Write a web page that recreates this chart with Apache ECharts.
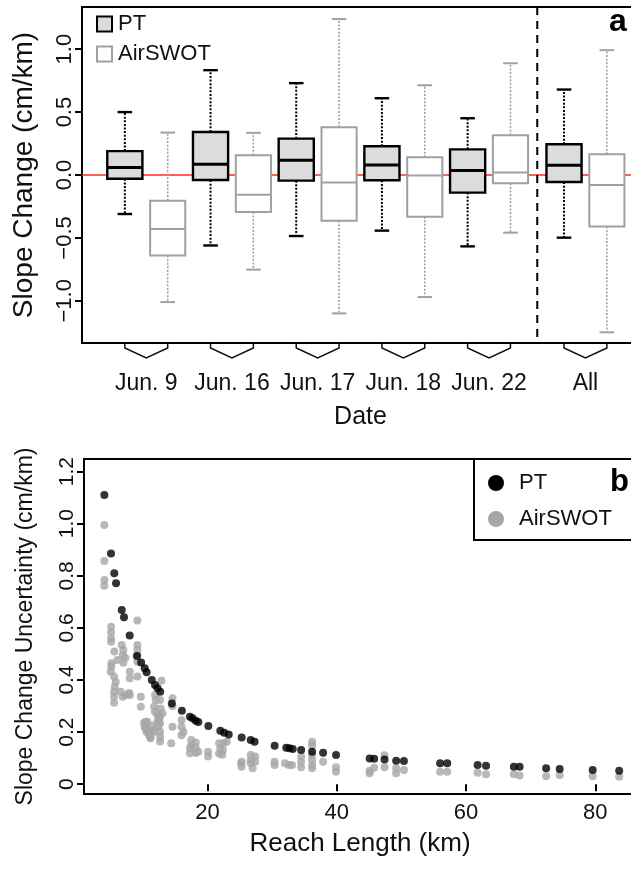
<!DOCTYPE html>
<html>
<head>
<meta charset="utf-8">
<script src="https://cdn.jsdelivr.net/npm/echarts@6/dist/echarts.min.js"></script>
<style>
  html, body { margin: 0; padding: 0; background: #fff; }
  #chart { width: 631px; height: 872px; }
</style>
</head>
<body>
<div id="chart"></div>
<script>
// ---- Panel a: slope change per survey date (box summaries) ----
const dateLabels = ['Jun. 9', 'Jun. 16', 'Jun. 17', 'Jun. 18', 'Jun. 22', 'All'];
// [lower whisker, Q1, median, Q3, upper whisker] in cm/km
const ptBoxes = [
  [-0.31, -0.03, 0.06, 0.19, 0.50],
  [-0.56, -0.04, 0.085, 0.342, 0.833],
  [-0.485, -0.045, 0.117, 0.289, 0.73],
  [-0.442, -0.042, 0.08, 0.228, 0.61],
  [-0.567, -0.14, 0.035, 0.204, 0.451],
  [-0.498, -0.056, 0.077, 0.244, 0.679]
];
const airswotBoxes = [
  [-1.01, -0.64, -0.43, -0.204, 0.337],
  [-0.752, -0.294, -0.156, 0.157, 0.335],
  [-1.10, -0.363, -0.06, 0.379, 1.239],
  [-0.97, -0.331, -0.003, 0.141, 0.713],
  [-0.458, -0.066, 0.019, 0.316, 0.888],
  [-1.25, -0.41, -0.079, 0.165, 0.992]
];
const slopeTicks = [-1.0, -0.5, 0.0, 0.5, 1.0];
const slopeTickLabels = ['\u22121.0', '\u22120.5', '0.0', '0.5', '1.0'];

// ---- Panel b: slope change uncertainty vs reach length ----
const ptLength = [4.06, 5.09, 5.6, 5.87, 6.75, 7.1, 7.98, 9.1, 9.75, 10.3, 10.6, 11.4, 11.9, 12.3, 12.7,
  14.5, 16.05, 17.3, 17.7, 18.2, 18.6, 20.15, 22.0, 22.6, 23.3, 25.3, 26.7, 27.3, 30.4, 32.2, 32.7,
  33.2, 34.5, 36.2, 37.9, 39.9, 45.1, 45.8, 47.4, 49.2, 50.4, 56.0, 57.1, 61.8, 63.1, 67.4, 68.3,
  72.4, 74.5, 79.6, 83.7];
const ptUncertainty = [1.11, 0.886, 0.81, 0.771, 0.669, 0.641, 0.571, 0.492, 0.467, 0.445, 0.43, 0.4, 0.381, 0.368, 0.355,
  0.31, 0.282, 0.259, 0.253, 0.244, 0.239, 0.223, 0.205, 0.198, 0.191, 0.179, 0.17, 0.163, 0.148, 0.14, 0.138,
  0.135, 0.131, 0.125, 0.121, 0.112, 0.099, 0.098, 0.095, 0.09, 0.089, 0.08, 0.08, 0.074, 0.071, 0.067, 0.067,
  0.061, 0.058, 0.055, 0.052];
// [reach length (km), uncertainty (cm/km)]
const airswotPoints = [
  [4.06, 0.995], [4.06, 0.857], [4.06, 0.784], [4.06, 0.762],
  [5.1, 0.604], [5.1, 0.583], [5.1, 0.56], [5.1, 0.547], [5.6, 0.509],
  [5.14, 0.464], [5.14, 0.451], [5.05, 0.432], [5.56, 0.413], [5.82, 0.393], [5.67, 0.374],
  [5.56, 0.355], [5.56, 0.336], [5.56, 0.313], [6.07, 0.477],
  [6.75, 0.534], [7.0, 0.515], [6.9, 0.496], [7.3, 0.485], [7.0, 0.466],
  [6.6, 0.355], [6.9, 0.336], [7.4, 0.342], [8.0, 0.342], [7.9, 0.35], [8.0, 0.432], [8.0, 0.407],
  [9.17, 0.628], [9.17, 0.534], [9.17, 0.515], [9.17, 0.496], [9.17, 0.47], [9.17, 0.413],
  [9.7, 0.336], [9.7, 0.297],
  [10.2, 0.235], [10.4, 0.24], [10.4, 0.215], [10.7, 0.24], [10.6, 0.2], [10.9, 0.2], [11.0, 0.189],
  [11.2, 0.176], [11.2, 0.18], [11.4, 0.225], [11.75, 0.208], [11.75, 0.2], [10.3, 0.22], [10.8, 0.21], [11.1, 0.195],
  [11.9, 0.342], [11.9, 0.278], [11.75, 0.297], [12.0, 0.323], [12.26, 0.266], [12.26, 0.24],
  [12.68, 0.259], [12.68, 0.233], [12.68, 0.201], [12.68, 0.182], [12.68, 0.164], [12.68, 0.323],
  [12.78, 0.291], [13.05, 0.272], [12.9, 0.397], [12.5, 0.25], [12.4, 0.22],
  [14.6, 0.33], [14.6, 0.3], [14.6, 0.221], [14.4, 0.157],
  [16.0, 0.246], [16.0, 0.221], [16.0, 0.188], [16.3, 0.2],
  [17.3, 0.138], [17.3, 0.119], [17.5, 0.17], [17.5, 0.15], [18.2, 0.16], [18.2, 0.14], [18.2, 0.12], [18.6, 0.125],
  [20.1, 0.125], [20.1, 0.106],
  [21.8, 0.157], [21.8, 0.118], [22.0, 0.138], [22.3, 0.113], [22.4, 0.131], [22.5, 0.157], [23.0, 0.163],
  [25.2, 0.08], [25.3, 0.086], [25.3, 0.067],
  [26.7, 0.112], [26.7, 0.093], [26.7, 0.08], [27.0, 0.061], [27.4, 0.106], [27.4, 0.086],
  [30.4, 0.086], [30.4, 0.074], [32.0, 0.08], [32.6, 0.074], [33.1, 0.074],
  [34.5, 0.106], [34.5, 0.086], [34.5, 0.065],
  [36.2, 0.163], [36.2, 0.148], [36.2, 0.112], [36.2, 0.093], [36.2, 0.074], [36.2, 0.061],
  [37.9, 0.086], [39.9, 0.065], [39.9, 0.048],
  [45.1, 0.052], [45.1, 0.042], [45.8, 0.063], [47.4, 0.111], [47.4, 0.065],
  [49.2, 0.061], [49.2, 0.042], [50.4, 0.055],
  [56.0, 0.048], [57.1, 0.048], [61.8, 0.044], [63.1, 0.038],
  [67.4, 0.038], [68.3, 0.033], [72.4, 0.031], [74.5, 0.035], [79.6, 0.031], [83.7, 0.029]
];
const uncertaintyTicks = [0, 0.2, 0.4, 0.6, 0.8, 1.0, 1.2];
const uncertaintyTickLabels = ['0', '0.2', '0.4', '0.6', '0.8', '1.0', '1.2'];
const lengthTicks = [20, 40, 60, 80];

// ---- layout helpers ----
const FONT = "'Liberation Sans', Arial, Helvetica, sans-serif";
const TEXT = '#111';
const BOX_WIDTH = 0.82;
const CAP_WIDTH = 0.34;
// two boxes per date, the pooled "All" pair set slightly apart
const groupStart = i => 2 * i + 1 + (i === dateLabels.length - 1 ? 0.25 : 0);
const labelPositions = dateLabels.map((_, i) => groupStart(i) + 0.5);
const separatorPos = (groupStart(dateLabels.length - 2) + 1 + groupStart(dateLabels.length - 1)) / 2;

const ptRows = ptBoxes.map((b, i) => [groupStart(i), ...b]);
const airswotRows = airswotBoxes.map((b, i) => [groupStart(i) + 1, ...b]);
const bracketRows = dateLabels.map((_, i) => [groupStart(i), groupStart(i) + 1]);

function boxRenderer(st) {
  return function (params, api) {
    const x = api.value(0);
    const vals = [1, 2, 3, 4, 5].map(d => api.value(d));
    const [pLow, pQ1, pMed, pQ3, pHigh] = vals.map(v => api.coord([x, v]));
    const half = api.size([BOX_WIDTH, 0])[0] / 2;
    const capHalf = api.size([CAP_WIDTH, 0])[0] / 2;
    const cx = pMed[0];
    const whisker = { stroke: st.whisker, lineWidth: st.whiskerWidth, lineDash: [2, 1.6] };
    const solid = { stroke: st.stroke, lineWidth: st.lineWidth };
    return {
      type: 'group',
      children: [
        { type: 'line', shape: { x1: cx, y1: pQ3[1], x2: cx, y2: pHigh[1] }, style: whisker },
        { type: 'line', shape: { x1: cx, y1: pQ1[1], x2: cx, y2: pLow[1] }, style: whisker },
        { type: 'line', shape: { x1: cx - capHalf, y1: pHigh[1], x2: cx + capHalf, y2: pHigh[1] }, style: solid },
        { type: 'line', shape: { x1: cx - capHalf, y1: pLow[1], x2: cx + capHalf, y2: pLow[1] }, style: solid },
        { type: 'rect', shape: { x: cx - half, y: pQ3[1], width: 2 * half, height: pQ1[1] - pQ3[1] },
          style: { fill: st.fill, stroke: st.stroke, lineWidth: st.lineWidth } },
        { type: 'line', shape: { x1: cx - half, y1: pMed[1], x2: cx + half, y2: pMed[1] },
          style: { stroke: st.stroke, lineWidth: st.medianWidth } }
      ]
    };
  };
}

const chart = echarts.init(document.getElementById('chart'));

chart.setOption({
  animation: false,
  backgroundColor: '#fff',
  textStyle: { fontFamily: FONT, color: TEXT },
  title: [
    { text: 'a', left: 609, top: 6, padding: 0, textStyle: { fontFamily: FONT, fontSize: 32, fontWeight: 'bold', color: '#000' } },
    { text: 'b', left: 610, top: 467, padding: 0, textStyle: { fontFamily: FONT, fontSize: 31, fontWeight: 'bold', color: '#000' } }
  ],
  legend: [
    {
      orient: 'vertical', left: 96, top: 13, padding: 0,
      itemWidth: 15, itemHeight: 15, itemGap: 8, selectedMode: false,
      textStyle: { fontFamily: FONT, fontSize: 22, color: TEXT, padding: [0, 0, 0, 1] },
      data: [
        { name: 'PT', icon: 'rect', itemStyle: { color: '#dcdcdc', borderColor: '#000', borderWidth: 2 } },
        { name: 'AirSWOT', icon: 'rect', itemStyle: { color: '#fff', borderColor: '#a0a0a0', borderWidth: 2 } }
      ]
    },
    {
      orient: 'vertical', left: 474, top: 459, padding: [13, 70, 10, 14],
      borderColor: '#000', borderWidth: 2,
      itemWidth: 16, itemHeight: 16, itemGap: 14, selectedMode: false,
      textStyle: { fontFamily: FONT, fontSize: 22, color: TEXT, padding: [0, 0, 0, 10] },
      data: [
        { name: 'PT', icon: 'circle', itemStyle: { color: '#000', borderWidth: 0 } },
        { name: 'AirSWOT', icon: 'circle', itemStyle: { color: '#a6a6a6', borderWidth: 0 } }
      ]
    }
  ],
  grid: [
    { left: 82, top: 7, width: 557, height: 336, outerBoundsMode: 'none', containLabel: false,
      show: true, borderColor: '#000', borderWidth: 2, backgroundColor: 'transparent' },
    { left: 84, top: 459, width: 552, height: 335, outerBoundsMode: 'none', containLabel: false,
      show: true, borderColor: '#000', borderWidth: 2, backgroundColor: 'transparent' }
  ],
  xAxis: [
    {
      gridIndex: 0, type: 'value', min: 0, max: 13,
      axisLine: { show: false }, axisTick: { show: false }, splitLine: { show: false },
      axisLabel: {
        customValues: labelPositions, margin: 29, fontSize: 23, fontFamily: FONT, color: TEXT,
        formatter: v => dateLabels[labelPositions.indexOf(v)] || ''
      },
      name: 'Date', nameLocation: 'middle', nameGap: 62,
      nameTextStyle: { fontSize: 25, fontFamily: FONT, color: TEXT }
    },
    {
      gridIndex: 1, type: 'value', min: 0.913, max: 86.3,
      axisLine: { show: false }, splitLine: { show: false },
      axisTick: { show: true, customValues: lengthTicks, length: 7, lineStyle: { color: '#000', width: 2 } },
      axisLabel: { customValues: lengthTicks, margin: 8, fontSize: 22, fontFamily: FONT, color: TEXT },
      name: 'Reach Length (km)', nameLocation: 'middle', nameGap: 37,
      nameTextStyle: { fontSize: 26, fontFamily: FONT, color: TEXT }
    }
  ],
  yAxis: [
    {
      gridIndex: 0, type: 'value', min: -1.335, max: 1.335,
      axisLine: { show: false }, splitLine: { show: false },
      axisTick: { show: true, customValues: slopeTicks, length: 7, lineStyle: { color: '#000', width: 2 } },
      axisLabel: {
        customValues: slopeTicks, rotate: 90, margin: 6, fontSize: 22, fontFamily: FONT, color: TEXT,
        formatter: v => slopeTickLabels[slopeTicks.indexOf(v)]
      },
      name: 'Slope Change (cm/km)', nameLocation: 'middle', nameGap: 44,
      nameTextStyle: { fontSize: 28, fontFamily: FONT, color: TEXT }
    },
    {
      gridIndex: 1, type: 'value', min: -0.0376, max: 1.2484,
      axisLine: { show: false }, splitLine: { show: false },
      axisTick: { show: true, customValues: uncertaintyTicks, length: 7, lineStyle: { color: '#000', width: 2 } },
      axisLabel: {
        customValues: uncertaintyTicks, rotate: 90, margin: 6, fontSize: 21, fontFamily: FONT, color: TEXT,
        formatter: v => uncertaintyTickLabels[uncertaintyTicks.indexOf(v)]
      },
      name: 'Slope Change Uncertainty (cm/km)', nameLocation: 'middle', nameGap: 47,
      nameTextStyle: { fontSize: 23, fontFamily: FONT, color: TEXT }
    }
  ],
  series: [
    {
      // zero reference line
      type: 'custom', xAxisIndex: 0, yAxisIndex: 0, z: 1, silent: true,
      data: [[0, 0]],
      renderItem: (params, api) => {
        const cs = params.coordSys;
        const y = api.coord([0, api.value(1)])[1];
        return { type: 'line', shape: { x1: cs.x, y1: y, x2: cs.x + cs.width, y2: y },
          style: { stroke: '#ff2a1e', lineWidth: 1.6 } };
      }
    },
    {
      // separator between single dates and the pooled set
      type: 'custom', xAxisIndex: 0, yAxisIndex: 0, z: 1, silent: true,
      data: [[separatorPos, 0]],
      renderItem: (params, api) => {
        const cs = params.coordSys;
        const x = api.coord([api.value(0), 0])[0];
        return { type: 'line', shape: { x1: x, y1: cs.y, x2: x, y2: cs.y + cs.height },
          style: { stroke: '#000', lineWidth: 2, lineDash: [8, 6] } };
      }
    },
    {
      // brackets joining each date's pair of boxes
      type: 'custom', xAxisIndex: 0, yAxisIndex: 0, z: 3, silent: true, clip: false,
      data: bracketRows,
      renderItem: (params, api) => {
        const base = params.coordSys.y + params.coordSys.height;
        const a = api.coord([api.value(0), 0])[0];
        const b = api.coord([api.value(1), 0])[0];
        return { type: 'polyline',
          shape: { points: [[a, base], [a, base + 5], [(a + b) / 2, base + 15], [b, base + 5], [b, base]] },
          style: { stroke: '#111', lineWidth: 1.5, fill: 'none' } };
      }
    },
    {
      name: 'PT', type: 'custom', xAxisIndex: 0, yAxisIndex: 0, z: 2,
      data: ptRows,
      renderItem: boxRenderer({ fill: '#dcdcdc', stroke: '#000', lineWidth: 2.4, medianWidth: 3, whisker: '#000', whiskerWidth: 2 })
    },
    {
      name: 'AirSWOT', type: 'custom', xAxisIndex: 0, yAxisIndex: 0, z: 2,
      data: airswotRows,
      renderItem: boxRenderer({ fill: '#fff', stroke: '#a0a0a0', lineWidth: 2, medianWidth: 2, whisker: '#a0a0a0', whiskerWidth: 1.6 })
    },
    {
      name: 'AirSWOT', type: 'scatter', xAxisIndex: 1, yAxisIndex: 1, z: 2,
      symbol: 'circle', symbolSize: 8,
      itemStyle: { color: '#a6a6a6' },
      data: airswotPoints
    },
    {
      name: 'PT', type: 'scatter', xAxisIndex: 1, yAxisIndex: 1, z: 3,
      symbol: 'circle', symbolSize: 8,
      itemStyle: { color: '#000' },
      data: ptLength.map((l, i) => [l, ptUncertainty[i]])
    }
  ]
});
</script>
</body>
</html>
